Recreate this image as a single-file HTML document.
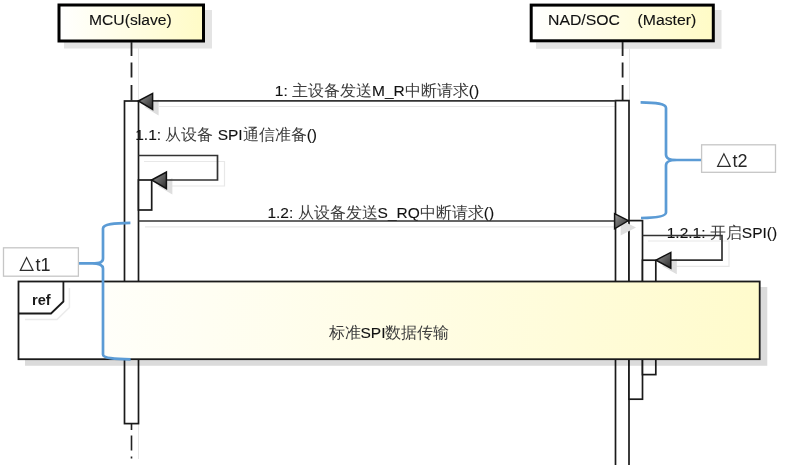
<!DOCTYPE html>
<html><head><meta charset="utf-8">
<style>
html,body{margin:0;padding:0;background:#fff;width:789px;height:465px;overflow:hidden}
svg{display:block;font-family:"Liberation Sans",sans-serif;filter:blur(0.35px)}
.t{font-size:15.5px;fill:#111;stroke:#111;stroke-width:0.12px}
.c{font-size:16px;fill:#3c3c3c;stroke:none}
</style></head><body>
<svg width="789" height="465" viewBox="0 0 789 465">
<defs>
<linearGradient id="hg" x1="0" y1="0" x2="1" y2="0">
<stop offset="0" stop-color="#ffffff"/><stop offset="1" stop-color="#fffbc6"/>
</linearGradient>
<linearGradient id="rg" gradientUnits="userSpaceOnUse" x1="18.5" y1="300" x2="759.7" y2="340">
<stop offset="0" stop-color="#ffffff"/><stop offset="0.5" stop-color="#fffde6"/><stop offset="1" stop-color="#fffbcc"/>
</linearGradient>
<linearGradient id="ag" x1="0" y1="0" x2="1" y2="1">
<stop offset="0" stop-color="#9a9a9a"/><stop offset="1" stop-color="#2a2a2a"/>
</linearGradient>
</defs>

<!-- head shadows -->
<rect x="64" y="10" width="148" height="38.5" fill="#e4e4e4"/>
<rect x="536" y="10" width="185.5" height="38.8" fill="#e4e4e4"/>
<!-- heads -->
<rect x="59" y="5" width="144.5" height="36" fill="url(#hg)" stroke="#000" stroke-width="3"/>
<rect x="531.2" y="5.1" width="182.1" height="35.7" fill="url(#hg)" stroke="#000" stroke-width="3"/>
<text class="t" transform="translate(89.0 24.7) scale(1.012 1)">MCU(slave)</text>
<text class="t" transform="translate(548.0 24.6) scale(1.02 1)">NAD/SOC&#160;&#160;&#160;&#160;(Master)</text>

<!-- lifeline shadows -->
<g stroke="#e6e6e6" stroke-width="1">
<line x1="138.5" y1="48" x2="138.5" y2="100"/>
<line x1="138.5" y1="424" x2="138.5" y2="459"/>
<line x1="629.5" y1="48" x2="629.5" y2="100"/>
</g>
<!-- lifelines -->
<g stroke="#222" stroke-width="1.8">
<path d="M131.5,42 V56 M131.5,62.5 V77.5 M131.5,85 V100.5"/>
<path d="M622.6,42 V56 M622.6,62.5 V77.5 M622.6,85 V100.5"/>
</g>
<g stroke="#222" stroke-width="1.6">
<line x1="131.5" y1="424" x2="131.5" y2="430"/>
<line x1="131.5" y1="435.5" x2="131.5" y2="450.5"/>
<line x1="131.5" y1="456.5" x2="131.5" y2="458.5"/>
</g>

<!-- message line shadows -->
<g stroke="#e8e8e8" stroke-width="1.2" fill="none">
<line x1="159" y1="106.5" x2="615" y2="106.5"/>
<line x1="145" y1="226.8" x2="614" y2="226.8"/>
<polyline points="144,161.5 224.5,161.5 224.5,186 170,186"/>
<polyline points="648,241 729,241 729,266.3 676,266.3"/>
</g>

<!-- activation bars -->
<g fill="#fff" stroke="#1a1a1a" stroke-width="1.7">
<rect x="124.5" y="101" width="14" height="322.6"/>
<rect x="138.5" y="180" width="13.2" height="30"/>
<rect x="615.5" y="100.6" width="13.5" height="380"/>
<rect x="629" y="220.6" width="13.5" height="178.6"/>
<rect x="642.5" y="260.2" width="13.3" height="114.4"/>
</g>
<g fill="#dedede">
<polygon points="144.4,107 158.6,99.4 158.6,115.5"/>
<polygon points="157.7,186 172.4,178 172.4,194.6"/>
<polygon points="636,227.5 620.6,219.7 620.6,235.5"/>
<polygon points="662,266 676.8,258.4 676.8,274.2"/>
</g>

<!-- message texts (under lines) -->
<text class="t" transform="translate(274.8 96.1)">1:&#160;<tspan class="c">主设备发送</tspan>M_R<tspan class="c">中断请求</tspan>()</text>
<text class="t" transform="translate(135.2 140.3)">1.1:&#160;<tspan class="c">从设备</tspan>&#160;SPI<tspan class="c">通信准备</tspan>()</text>
<text class="t" transform="translate(267.4 218.2)">1.2:&#160;<tspan class="c">从设备发送</tspan>S_RQ<tspan class="c">中断请求</tspan>()</text>
<text class="t" transform="translate(666.7 238.0)">1.2.1:&#160;<tspan class="c">开启</tspan>SPI()</text>

<!-- messages -->
<g stroke="#333" stroke-width="1.7" fill="none">
<line x1="152" y1="100.9" x2="615.5" y2="100.9"/>
<line x1="138.5" y1="221" x2="615" y2="221"/>
<polyline points="138.5,155.5 217.5,155.5 217.5,180 166,180"/>
<polyline points="642.5,235.5 722,235.5 722,260.2 670,260.2"/>
</g>
<g stroke="#111" stroke-width="1.5" stroke-linejoin="miter" fill="url(#ag)">
<polygon points="138.4,101 152.6,93.4 152.6,109.5"/>
<polygon points="151.7,180 166.4,172 166.4,188.6"/>
<polygon points="628.4,220.6 614.6,213.7 614.6,228.8"/>
<polygon points="656,260.2 670.8,252.4 670.8,268.2"/>
</g>

<!-- ref -->
<rect x="25" y="287" width="742.3" height="78.8" fill="#000" fill-opacity="0.14"/>
<rect x="18.5" y="281.5" width="741.2" height="77.7" fill="#fff"/>
<rect x="103" y="281.5" width="656.7" height="77.7" fill="url(#rg)"/>
<rect x="18.5" y="281.5" width="741.2" height="77.7" fill="none" stroke="#1a1a1a" stroke-width="1.8"/>
<polyline points="25,319.5 57,319.5 69.4,307.5 69.4,288" fill="none" stroke="#ebebeb" stroke-width="1.5"/>
<polyline points="18.5,313.5 51,313.5 63.4,301.5 63.4,281.5" fill="none" stroke="#1a1a1a" stroke-width="1.8"/>
<text transform="translate(32 305)" style="font-size:14.6px;font-weight:bold;fill:#1a1a1a">ref</text>
<text class="t" transform="translate(328.5 337.6)"><tspan class="c">标准</tspan>SPI<tspan class="c">数据传输</tspan></text>

<!-- brackets -->
<g stroke="#5b9bd5" stroke-width="2.7" fill="none" stroke-linecap="butt">
<path d="M640.6,102.4 C656,102.6 666,103.5 666,108 L666,154.5 C666,158.3 668.5,160 677,160 L702,160 M677,160 C668.5,160 666,161.7 666,165.5 L666,212.5 C666,216.5 656,217.8 641,218"/>
<path d="M130.4,222.8 C114,223 103,224 103,228.5 L103,258.5 C103,262 100.5,263.3 92,263.3 L78,263.3 M92,263.3 C100.5,263.3 103,265 103,268.5 L103,354.5 C103,358 114,359 130.6,359.3"/>
</g>
<rect x="701.6" y="144.8" width="73.9" height="27.5" fill="#fff" stroke="#c6c6c6" stroke-width="1.3"/>
<rect x="3.5" y="247.8" width="74.9" height="28.4" fill="#fff" stroke="#c6c6c6" stroke-width="1.3"/>
<g fill="none" stroke="#2e2e2e" stroke-width="1.2" stroke-linejoin="miter">
<polygon points="717.6,166.4 730.2,166.4 723.9,153.8"/>
<polygon points="20.3,270.4 33,270.4 26.6,257.6"/>
</g>
<text transform="translate(732.6 167.2)" style="font-size:18px;fill:#262626">t2</text>
<text transform="translate(35.6 271.4)" style="font-size:18px;fill:#262626">t1</text>
</svg>
</body></html>
